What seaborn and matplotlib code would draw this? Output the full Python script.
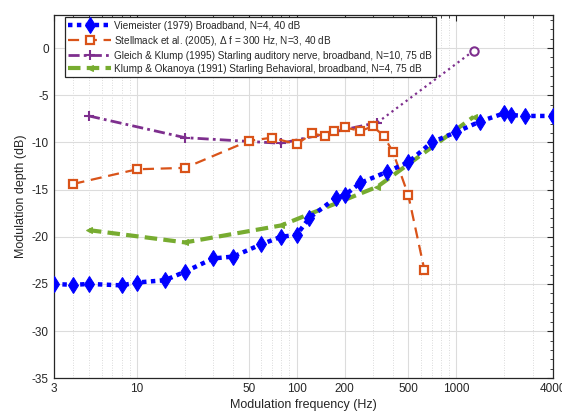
import numpy as np
import pandas as pd
import matplotlib
matplotlib.use("Agg")
import matplotlib.pyplot as plt
import seaborn as sns
from matplotlib.ticker import FixedLocator, NullFormatter, MultipleLocator, LogLocator

# ---- data ----
vie_f = [3, 4, 5, 8, 10, 15, 20, 30, 40, 60, 80, 100, 120, 175, 200, 250, 370, 500, 700, 1000, 1400, 2000, 2200, 2700, 4000]
vie_d = [-25.0, -25.1, -25.0, -25.15, -24.85, -24.6, -23.7, -22.3, -22.1, -20.8, -20.0, -19.8, -18.0, -15.9, -15.6, -14.3, -13.1, -12.1, -10.0, -8.9, -7.8, -6.9, -7.1, -7.2, -7.2]

ste_f = [4, 10, 20, 50, 70, 100, 125, 150, 170, 200, 250, 300, 350, 400, 500, 630]
ste_d = [-14.4, -12.85, -12.7, -9.85, -9.5, -10.2, -9.05, -9.35, -8.8, -8.4, -8.8, -8.3, -9.3, -11.0, -15.6, -23.5]

gk_f = [5, 20, 80, 320]
gk_d = [-7.2, -9.5, -10.1, -7.9]
gk_ext_f = [320, 1280]
gk_ext_d = [-7.9, -0.3]

ko_f = [5, 20, 80, 320, 1280]
ko_d = [-19.3, -20.6, -18.8, -14.7, -7.3]

labels = [
    "Viemeister (1979) Broadband, N=4, 40 dB",
    "Stellmack et al. (2005), $\\Delta$ f = 300 Hz, N=3, 40 dB",
    "Gleich & Klump (1995) Starling auditory nerve, broadband, N=10, 75 dB",
    "Klump & Okanoya (1991) Starling Behavioral, broadband, N=4, 75 dB",
]
xticks = [3, 10, 50, 100, 200, 500, 1000, 4000]
yticks = [-35, -30, -25, -20, -15, -10, -5, 0]

# ---- style ----
sns.set_theme(style="white")
plt.rcParams["font.family"] = ["Liberation Sans", "DejaVu Sans"]
plt.rcParams["mathtext.fontset"] = "custom"
plt.rcParams["mathtext.rm"] = "Liberation Sans"
plt.rcParams["mathtext.it"] = "Liberation Sans"
plt.rcParams["axes.unicode_minus"] = False

c_blue = "#0000FF"
c_orange = "#D95319"
c_purple = "#7E2F8E"
c_green = "#77AC30"
txt = "#262626"

fig = plt.figure(figsize=(5.62, 4.16), dpi=100)
ax = fig.add_axes([0.0952, 0.0906, 0.888, 0.8734])

df_v = pd.DataFrame({"f": vie_f, "d": vie_d})
df_s = pd.DataFrame({"f": ste_f, "d": ste_d})
df_g = pd.DataFrame({"f": gk_f, "d": gk_d})
df_ge = pd.DataFrame({"f": gk_ext_f, "d": gk_ext_d})
df_k = pd.DataFrame({"f": ko_f, "d": ko_d})

sns.lineplot(data=df_ge, x="f", y="d", ax=ax, color=c_purple, linestyle=":", linewidth=1.6, zorder=2)
ax.plot(gk_ext_f[-1:], gk_ext_d[-1:], linestyle="none", marker="o", markersize=6,
        markerfacecolor="white", markeredgecolor=c_purple, markeredgewidth=1.5, zorder=3)

sns.lineplot(data=df_k, x="f", y="d", ax=ax, color=c_green, linestyle=(0, (3, 1.5)), linewidth=3,
             marker="<", markersize=5, markeredgecolor=c_green, zorder=3)
sns.lineplot(data=df_g, x="f", y="d", ax=ax, color=c_purple, linestyle=(0, (4, 1.5, 1, 1.5)), linewidth=2,
             marker="+", markersize=7, markeredgewidth=1.5, markeredgecolor=c_purple, zorder=3)
sns.lineplot(data=df_s, x="f", y="d", ax=ax, color=c_orange, linestyle=(0, (5, 3)), linewidth=1.6,
             marker="s", markersize=5.5, markerfacecolor="white", markeredgecolor=c_orange,
             markeredgewidth=1.6, zorder=4)
sns.lineplot(data=df_v, x="f", y="d", ax=ax, color=c_blue, linestyle=(0, (1, 1)), linewidth=3.2,
             marker="d", markersize=8.5, markeredgecolor=c_blue, zorder=5)

lines = ax.get_lines()
# order: ext dotted, ext circle, green, purple, orange, blue
h_blue, h_orange, h_purple, h_green = lines[5], lines[4], lines[3], lines[2]

ax.set_xscale("log")
ax.set_xlim(3, 4000)
ax.set_ylim(-35, 3.5)
ax.xaxis.set_major_locator(FixedLocator(xticks))
ax.set_xticklabels([str(t) for t in xticks])
ax.xaxis.set_minor_locator(LogLocator(base=10, subs=np.arange(2, 10)))
ax.xaxis.set_minor_formatter(NullFormatter())
ax.yaxis.set_major_locator(FixedLocator(yticks))
ax.yaxis.set_minor_locator(MultipleLocator(1))

ax.grid(True, which="major", color="#dcdcdc", linewidth=0.8, linestyle="-", zorder=0)
ax.grid(True, which="minor", axis="x", color="#cfcfcf", linewidth=0.6, linestyle=(0, (1, 2)), zorder=0)
ax.set_axisbelow(True)

ax.tick_params(which="both", direction="in", top=True, right=True, colors=txt, labelsize=8.5)
ax.tick_params(which="major", length=4, width=0.8)
ax.tick_params(which="minor", length=2.2, width=0.6)
for s in ax.spines.values():
    s.set_color(txt)
    s.set_linewidth(0.9)

ax.set_xlabel("Modulation frequency (Hz)", fontsize=9, color=txt, labelpad=3)
ax.set_ylabel("Modulation depth (dB)", fontsize=9, color=txt, labelpad=3)

leg = ax.legend([h_blue, h_orange, h_purple, h_green], labels, loc="upper left",
                bbox_to_anchor=(0.018, 1.0), fontsize=7.2, frameon=True, fancybox=False,
                handlelength=4.3, handletextpad=0.3, borderpad=0.35, labelspacing=0.3,
                borderaxespad=0.25)
leg.get_frame().set_edgecolor(txt)
leg.get_frame().set_linewidth(0.9)
leg.get_frame().set_alpha(1)
for t in leg.get_texts():
    t.set_color(txt)

fig.savefig("out.png", dpi=100)
